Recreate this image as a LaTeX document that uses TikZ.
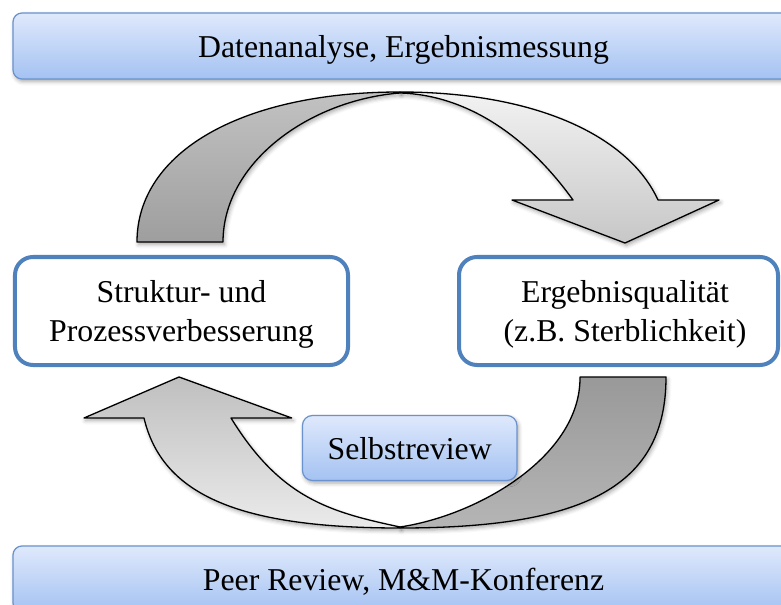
\documentclass[tikz,border=0pt]{standalone}
\usepackage{fontspec}
\setmainfont{Liberation Serif}
\usetikzlibrary{shadows.blur}

\definecolor{barhi}{HTML}{DFE9FC}
\definecolor{barlo}{HTML}{A4C2F2}
\definecolor{barline}{HTML}{6A92CC}
\definecolor{boxline}{HTML}{4F81BD}

\tikzset{
  lbl/.style={font=\fontsize{31.9}{38.3}\selectfont, text depth=0pt},
  softshadow/.style={blur shadow={shadow xshift=1.5bp, shadow yshift=-2.5bp,
      shadow blur radius=4bp, shadow opacity=35}},
  banner/.style={draw=barline, line width=1.2bp, rounded corners=9bp,
      top color=barhi, bottom color=barlo, softshadow,
      minimum width=781bp, minimum height=66bp, inner sep=0pt, lbl},
  tag/.style={draw=barline, line width=1.2bp, rounded corners=10bp,
      top color=barhi, bottom color=barlo, softshadow,
      minimum width=214.5bp, minimum height=65bp, inner sep=0pt, lbl},
  stage/.style={draw=boxline, line width=4bp, rounded corners=18bp,
      fill=white, inner sep=0pt, minimum height=108bp},
  stagetext/.style={align=center, inner sep=0pt, lbl},
  ribbon/.style={draw=black, line width=1.3bp, line join=round, softshadow},
}

\begin{document}
\begin{tikzpicture}[x=1bp, y=-1bp]
  \useasboundingbox (0,0) rectangle (781,605);
  \clip (0,0) rectangle (781,605);

  % ---- upper cycle arrow: darker back half, lighter front half with head
  \path[ribbon, top color=black!24, bottom color=black!38]
    (137,242) .. controls (137,152) and (242,92) .. (400,92)
    -- (400,93) .. controls (310,100) and (223,162) .. (223,242) -- cycle;
  \path[ribbon, top color=black!5, bottom color=black!22]
    (400,92) .. controls (531.9,92) and (627.6,133.8) .. (658,200)
    -- (719,200) -- (625,243) -- (512,200) -- (573,200)
    .. controls (530,140) and (470,95) .. (400,93) -- cycle;

  % ---- lower cycle arrow
  \path[ribbon, top color=black!40, bottom color=black!29]
    (666,377) .. controls (666,484) and (589,528) .. (400,528)
    -- (400,527) .. controls (480,515) and (581,455) .. (580,377) -- cycle;
  \path[ribbon, top color=black!25, bottom color=black!8]
    (400,528) .. controls (240.6,528) and (162.3,495.6) .. (144,418)
    -- (84,418) -- (179,377) -- (291.7,418) -- (231,418)
    .. controls (280.7,498.7) and (330,512) .. (400,527) -- cycle;

  % ---- banners
  \node[banner] (daten) at (403.5,46) {Datenanalyse, Ergebnismessung};
  \node[banner] (peer) at (403.5,579) {Peer Review, M\&M-Konferenz};

  % ---- stages of the cycle
  \node[stage, minimum width=333bp] (struktur) at (181.5,311) {};
  \node[stagetext] (strukturtext) at (181.5,311)
    {Struktur- und\\Prozessverbesserung};
  \node[stage, minimum width=319bp] (ergebnis) at (618.5,311) {};
  \node[stagetext] (ergebnistext) at (625,311)
    {Ergebnisqualität\\(z.B. Sterblichkeit)};

  % ---- self review tag
  \node[tag] (selbst) at (409.7,448) {Selbstreview};
\end{tikzpicture}
\end{document}
